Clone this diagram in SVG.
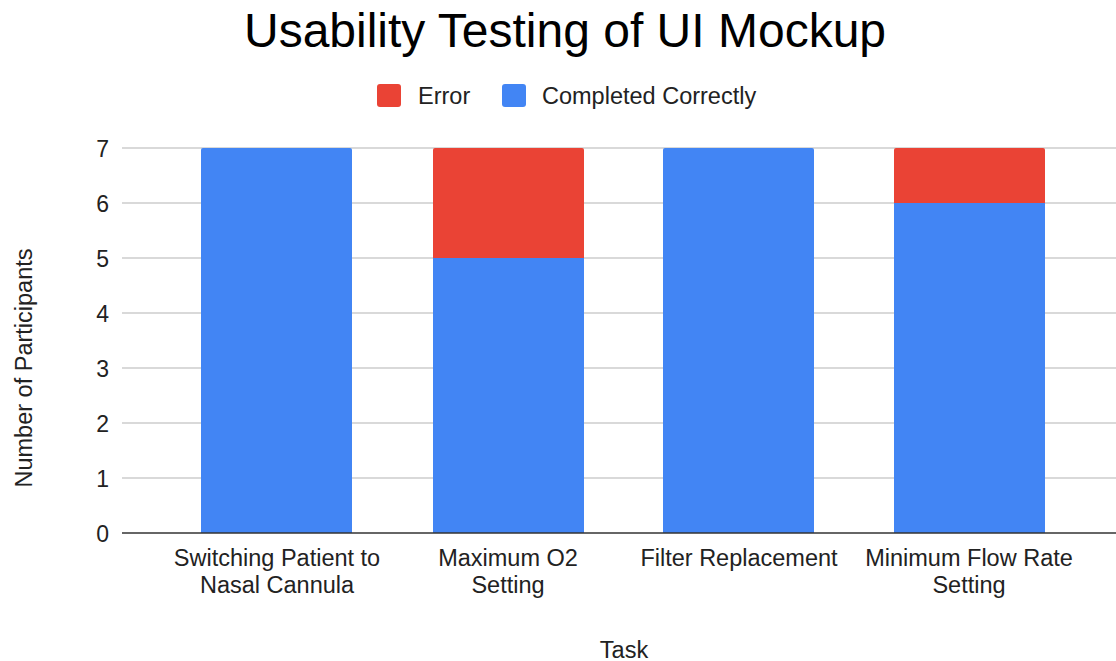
<svg xmlns="http://www.w3.org/2000/svg" width="1116" height="661" viewBox="0 0 1116 661">
<style>
text{font-family:"Liberation Sans",Arial,sans-serif;fill:#222}
.title{font-size:48px;fill:#000}
.lab{font-size:23.5px}
.tick{font-size:23px;text-anchor:end}
.xl{font-size:23.5px;text-anchor:middle}
.grid{stroke:#cccccc;stroke-width:1.5}
.err{fill:#ea4335}
.ok{fill:#4285f4}
</style>
<rect width="1116" height="661" fill="#ffffff"/>
<text class="title" x="565" y="47" text-anchor="middle">Usability Testing of UI Mockup</text>
<g id="legend">
<rect class="err" x="377" y="84" width="24" height="23" rx="3"/>
<text class="lab" x="418" y="104">Error</text>
<rect class="ok" x="502" y="84" width="24" height="23" rx="3"/>
<text class="lab" x="542" y="104">Completed Correctly</text>
</g>
<g id="grid">
<line class="grid" x1="122" y1="148" x2="1116" y2="148"/>
<line class="grid" x1="122" y1="203" x2="1116" y2="203"/>
<line class="grid" x1="122" y1="258" x2="1116" y2="258"/>
<line class="grid" x1="122" y1="313" x2="1116" y2="313"/>
<line class="grid" x1="122" y1="368" x2="1116" y2="368"/>
<line class="grid" x1="122" y1="423" x2="1116" y2="423"/>
<line class="grid" x1="122" y1="478" x2="1116" y2="478"/>
</g>
<g id="ticks">
<text class="tick" x="109" y="157">7</text>
<text class="tick" x="109" y="212">6</text>
<text class="tick" x="109" y="267">5</text>
<text class="tick" x="109" y="322">4</text>
<text class="tick" x="109" y="377">3</text>
<text class="tick" x="109" y="432">2</text>
<text class="tick" x="109" y="487">1</text>
<text class="tick" x="109" y="542">0</text>
</g>
<g id="bar1">
<path class="ok" d="M201,533 V150 Q201,148 203,148 H350 Q352,148 352,150 V533 Z"/>
</g>
<g id="bar2">
<rect class="ok" x="433" y="258" width="151" height="275"/>
<path class="err" d="M433,258 V150 Q433,148 435,148 H582 Q584,148 584,150 V258 Z"/>
</g>
<g id="bar3">
<path class="ok" d="M663,533 V150 Q663,148 665,148 H812 Q814,148 814,150 V533 Z"/>
</g>
<g id="bar4">
<rect class="ok" x="894" y="203" width="151" height="330"/>
<path class="err" d="M894,203 V150 Q894,148 896,148 H1043 Q1045,148 1045,150 V203 Z"/>
</g>
<line x1="122" y1="533" x2="1116" y2="533" stroke="#333333" stroke-width="1.5"/>
<g id="xlabels">
<text class="xl" x="277" y="566">Switching Patient to</text>
<text class="xl" x="277" y="593">Nasal Cannula</text>
<text class="xl" x="508" y="566">Maximum O2</text>
<text class="xl" x="508" y="593">Setting</text>
<text class="xl" x="739" y="566">Filter Replacement</text>
<text class="xl" x="969" y="566">Minimum Flow Rate</text>
<text class="xl" x="969" y="593">Setting</text>
</g>
<text class="xl" x="624" y="658">Task</text>
<text class="xl" transform="translate(32,368) rotate(-90)">Number of Participants</text>
</svg>
